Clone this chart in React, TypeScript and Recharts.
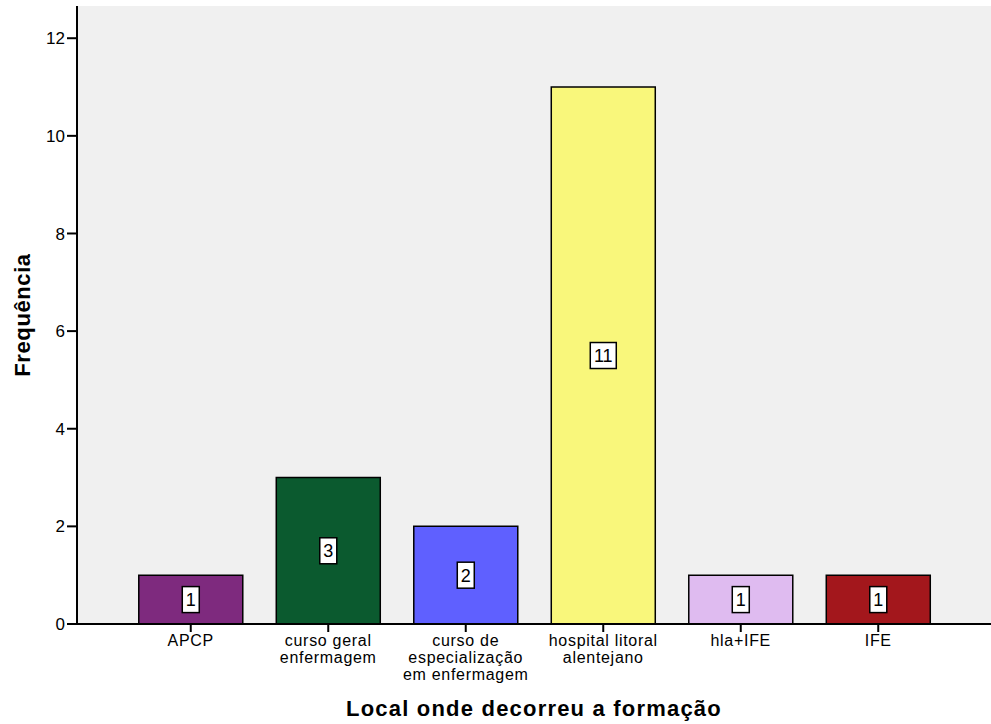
import { BarChart, Bar, XAxis, YAxis, CartesianGrid, Cell, LabelList } from 'recharts';

const categories = [
  'APCP',
  'curso geral enfermagem',
  'curso de especialização em enfermagem',
  'hospital litoral alentejano',
  'hla+IFE',
  'IFE',
];
const tickLines = [
  ['APCP'],
  ['curso geral', 'enfermagem'],
  ['curso de', 'especialização', 'em enfermagem'],
  ['hospital litoral', 'alentejano'],
  ['hla+IFE'],
  ['IFE'],
];
const frequencies = [1, 3, 2, 11, 1, 1];
const barColors = ['#7e2a7e', '#0b5a2f', '#5f60ff', '#f9f77b', '#dfbbf0', '#a3171c'];
const yTicks = [0, 2, 4, 6, 8, 10, 12];

const font = 'Arial, "Liberation Sans", sans-serif';

function CategoryTick(props: any) {
  const { x, y, payload } = props;
  const idx = categories.indexOf(payload.value);
  const lines = tickLines[idx] || [payload.value];
  return (
    <g>
      <line x1={x} y1={y - 9} x2={x} y2={y} stroke="#000" strokeWidth={2} />
      <text
        x={x}
        y={y + 14}
        textAnchor="middle"
        fontSize={16}
        letterSpacing={0.7}
        fontFamily={font}
        fill="#000"
      >
        {lines.map((l, i) => (
          <tspan key={i} x={x} dy={i === 0 ? 0 : 17}>
            {l}
          </tspan>
        ))}
      </text>
    </g>
  );
}

function ValueBox(props: any) {
  const { x, y, width, height, value } = props;
  const cx = x + width / 2;
  const cy = y + height / 2;
  const w = String(value).length > 1 ? 26 : 17;
  const h = 26;
  return (
    <g>
      <rect x={cx - w / 2} y={cy - h / 2} width={w} height={h} fill="#fff" stroke="#000" strokeWidth={1.5} />
      <text x={cx} y={cy + 6.5} textAnchor="middle" fontSize={18} fontFamily={font} fill="#000">
        {value}
      </text>
    </g>
  );
}

export default function App() {
  const data = categories.map((c, i) => ({ name: c, value: frequencies[i] }));

  return (
    <div style={{ position: 'absolute', left: 0, top: 0, width: 991, height: 724, background: '#fff' }}>
      <BarChart
        width={991}
        height={724}
        data={data}
        margin={{ top: 6, right: 0, bottom: 0, left: 0 }}
        barCategoryGap="12.2%"
      >
        <CartesianGrid fill="#f0f0f0" horizontal={false} vertical={false} />
        <XAxis
          dataKey="name"
          height={100}
          padding={{ left: 45, right: 44 }}
          axisLine={{ stroke: '#000', strokeWidth: 2 }}
          tickLine={false}
          interval={0}
          tick={<CategoryTick />}
          label={{
            value: 'Local onde decorreu a formação',
            position: 'insideBottom',
            offset: 8,
            style: {
              fontSize: 22,
              fontWeight: 'bold',
              fontFamily: font,
              fill: '#000',
              letterSpacing: 1.2,
            },
          }}
        />
        <XAxis
          xAxisId="top"
          orientation="top"
          dataKey="name"
          height={0}
          tick={false}
          tickLine={false}
          axisLine={{ stroke: '#000', strokeWidth: 2 }}
        />
        <YAxis
          width={77}
          domain={[0, 12.66]}
          ticks={yTicks}
          allowDataOverflow
          axisLine={{ stroke: '#000', strokeWidth: 2 }}
          tickLine={{ stroke: '#000', strokeWidth: 2 }}
          tickSize={10}
          tick={{ fontSize: 17, fontFamily: font, fill: '#000' }}
          label={{
            value: 'Frequência',
            angle: -90,
            position: 'insideLeft',
            offset: 22,
            style: {
              fontSize: 22,
              fontWeight: 'bold',
              fontFamily: font,
              fill: '#000',
              textAnchor: 'middle',
              letterSpacing: 0.6,
            },
          }}
        />
        <Bar dataKey="value" isAnimationActive={false} stroke="#000" strokeWidth={1.5}>
          {data.map((d, i) => (
            <Cell key={d.name} fill={barColors[i]} />
          ))}
          <LabelList dataKey="value" content={<ValueBox />} />
        </Bar>
      </BarChart>
    </div>
  );
}
